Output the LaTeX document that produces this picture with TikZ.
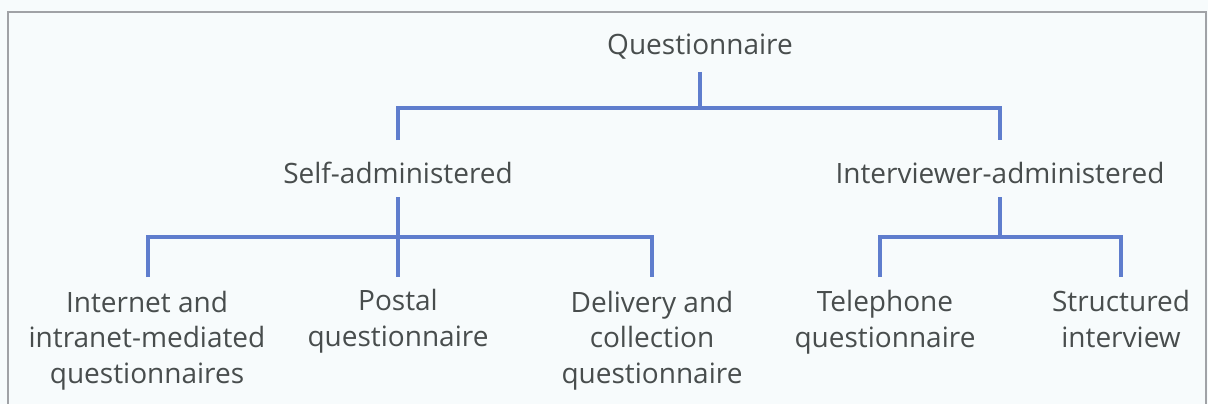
\documentclass[tikz,border=0pt]{standalone}
\usepackage{fontspec}
\setmainfont{Open Sans}
\usetikzlibrary{calc}
\definecolor{treeblue}{RGB}{95,125,205}
\definecolor{textgrey}{RGB}{72,77,77}
\definecolor{paper}{RGB}{247,251,252}
\definecolor{framegrey}{RGB}{160,162,166}

\begin{document}
\begin{tikzpicture}[x=1pt,y=-1pt,
  label/.style={anchor=base,inner sep=0pt,align=center,text=textgrey,
    font=\fontsize{28}{35.5}\selectfont},
  branch/.style={draw=treeblue,line width=3.6pt,line join=miter}]
\useasboundingbox (0,0) rectangle (1208,404);
\fill[paper] (0,0) rectangle (1208,404);
% frame
\draw[framegrey,line width=1.6pt] (8,404) -- (8,12) -- (1206,12) -- (1206,404);

% Text Nodes (base = baseline of the last line)
\node[label] (q) at (700,55) {Questionnaire};
\node[label] (sa) at (398,183) {Self-administered};
\node[label] (ia) at (1000,183) {Interviewer-administered};
\node[label] (in) at (147,383) {Internet and\\intranet-mediated\\questionnaires};
\node[label] (po) at (398,346) {Postal\\questionnaire};
\node[label] (de) at (652,383) {Delivery and\\collection\\questionnaire};
\node[label] (te) at (885,347) {Telephone\\questionnaire};
\node[label] (st) at (1121,347) {Structured\\interview};

% line ends
\coordinate (q-b) at ($(q.base)+(0,17)$);
\coordinate (q-bus) at ($(q.base)+(0,53)$);
\coordinate (sa-t) at ($(sa.base)+(0,-43)$);
\coordinate (sa-b) at ($(sa.base)+(0,14)$);
\coordinate (sa-bus) at ($(sa.base)+(0,54)$);
\coordinate (ia-t) at ($(ia.base)+(0,-43)$);
\coordinate (ia-b) at ($(ia.base)+(0,14)$);
\coordinate (ia-bus) at ($(ia.base)+(0,54)$);
\coordinate (in-t) at ($(in.base)+(1,-106)$);
\coordinate (po-t) at ($(po.base)+(0,-69)$);
\coordinate (de-t) at ($(de.base)+(0,-106)$);
\coordinate (te-t) at ($(te.base)+(-5,-70)$);
\coordinate (st-t) at ($(st.base)+(0,-70)$);

% Connectors
\draw[branch] (q-b) -- (q-bus);
\draw[branch] (sa-t) |- (q-bus) -| (ia-t);
\draw[branch] (in-t) |- (sa-bus) -| (de-t);
\draw[branch] (sa-b) -- (po-t);
\draw[branch] (ia-b) -- (ia-bus);
\draw[branch] (te-t) |- (ia-bus) -| (st-t);
\end{tikzpicture}
\end{document}
